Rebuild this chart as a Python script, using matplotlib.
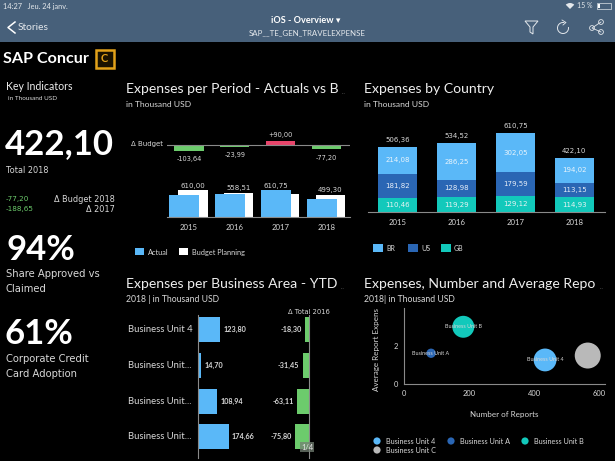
import matplotlib
matplotlib.use('Agg')
import matplotlib.pyplot as plt
from matplotlib.patches import Rectangle, Circle, Arc, Polygon, Wedge

plt.rcParams['font.family'] = ['Lato', 'DejaVu Sans']

# data
years = ['2015', '2016', '2017', '2018']
actual = [506.36, 534.52, 610.75, 422.10]
budget = [610.00, 558.51, 520.75, 499.30]
delta_budget = [-103.64, -23.99, 90.00, -77.20]
delta_labels = ['-103,64', '-23,99', '+90,00', '-77,20']
period_labels = ['610,00', '558,51', '610,75', '499,30']

country_br = [214.08, 286.25, 302.05, 194.02]
country_us = [181.82, 128.98, 179.59, 113.15]
country_gb = [110.46, 119.29, 129.12, 114.93]
country_total = [506.36, 534.52, 610.75, 422.10]

units = ['Business Unit 4', 'Business Unit...', 'Business Unit...', 'Business Unit...']
unit_values = [123.80, 14.70, 108.94, 174.66]
unit_delta = [-18.30, -31.45, -63.11, -75.80]

bubble_names = ['Business Unit 4', 'Business Unit A', 'Business Unit B', 'Business Unit C']
bubble_reports = [434, 84, 183, 565]
bubble_avg = [1.27, 1.62, 3.0, 1.5]
bubble_size = [270, 45, 250, 350]

BLUE = '#5ab8f8'
DARK = '#2a66b4'
TEAL = '#12c9bb'
GREEN = '#6ccb6c'
RED = '#e8456b'
GREY = '#b9b9b9'
LIGHT = '#d8d8d8'
HEADER = '#47607a'
ICON = '#e4e8ec'


def fmt(v):
    return f'{v:.2f}'.replace('.', ',')


def make_axes(left, top, right, bottom):
    a = fig.add_axes([left / 615, 1 - bottom / 461, (right - left) / 615, (bottom - top) / 461])
    a.set_facecolor('none')
    a.set_xticks([])
    a.set_yticks([])
    for s in a.spines.values():
        s.set_visible(False)
    return a


fig = plt.figure(figsize=(6.15, 4.61), dpi=100, facecolor='black')

# page overlay in pixels, for header and text
page = make_axes(0, 0, 615, 461)
page.set_xlim(0, 615)
page.set_ylim(461, 0)
page.add_patch(Rectangle((0, 0), 615, 42, color=HEADER, lw=0))


def txt(x, y, s, size=6, color=LIGHT, ha='left', weight='normal', **kw):
    page.text(x, y, s, fontsize=size, color=color, ha=ha, va='center', fontweight=weight, **kw)


# header
txt(3, 6, '14:27   Jeu. 24 janv.', 5.3, ICON)
page.add_patch(Wedge((570, 9), 6, 225, 315, color=ICON, lw=0))
txt(577, 6, '15 %', 5, ICON)
page.add_patch(Rectangle((597, 3), 14, 6, fill=False, ec='#dde3e8', lw=0.5))
page.add_patch(Rectangle((598, 4), 2, 4, color='white', lw=0))
page.plot([15, 8, 15], [22, 27.5, 33], color='white', lw=1.1)
txt(18, 27, 'Stories', 7.4, ICON)
txt(306, 20.5, 'iOS - Overview ▾', 6.6, 'white', ha='center', weight='bold')
txt(307, 33, 'SAP__TE_GEN_TRAVELEXPENSE', 5.7, ICON, ha='center')
page.add_patch(Polygon([[525, 21], [538, 21], [533, 27], [533, 34], [530, 32], [530, 27]],
                       fill=False, ec=ICON, lw=0.7))
page.add_patch(Arc((563, 28), 11, 11, theta1=-10, theta2=285, ec=ICON, lw=0.7))
page.plot([562, 566, 563], [20, 22.5, 25], color=ICON, lw=0.6)
page.plot([601, 592, 601], [22, 28, 32], color=ICON, lw=0.6)
for cx, cy in [(601, 22), (592, 28), (601, 32)]:
    page.add_patch(Circle((cx, cy), 2.4, fc=HEADER, ec=ICON, lw=0.6))

# logo
txt(3, 59, 'SAP Concur', 11.6, 'white', weight='bold')
page.add_patch(Rectangle((95.5, 50), 18, 18, fc='#1a1200', ec='#e3a21a', lw=1.8))
txt(104, 59, 'C', 8, '#e3a21a', ha='center', weight='bold')

# key indicators
txt(6, 87, 'Key Indicators', 7.6, '#eeeeee')
txt(8, 98, 'in Thousand USD', 4.6, LIGHT)
txt(5, 144, '422,10', 25, 'white', weight='bold')
txt(6, 170, 'Total 2018', 5.9, LIGHT, family='DejaVu Sans')
txt(6, 199, '-77,20', 5.2, GREEN, family='DejaVu Sans')
txt(6, 209, '-188,65', 5.2, GREEN, family='DejaVu Sans')
txt(115, 199, 'Δ Budget 2018', 5.9, LIGHT, ha='right', family='DejaVu Sans')
txt(115, 209, 'Δ 2017', 5.9, LIGHT, ha='right', family='DejaVu Sans')
txt(6, 250, '94%', 25, 'white', weight='bold')
txt(6, 274, 'Share Approved vs', 7.2, LIGHT, family='DejaVu Sans')
txt(6, 289, 'Claimed', 7.2, LIGHT, family='DejaVu Sans')
txt(5, 334, '61%', 25, 'white', weight='bold')
txt(6, 359, 'Corporate Credit', 7.2, LIGHT, family='DejaVu Sans')
txt(6, 374, 'Card Adoption', 7.2, LIGHT, family='DejaVu Sans')

# panel titles
txt(126, 89, 'Expenses per Period - Actuals vs B', 10.1, '#eeeeee')
txt(342, 92, '...', 4, '#777777')
txt(126, 104, 'in Thousand USD', 6.1, LIGHT)
txt(364, 89, 'Expenses by Country', 10.1, '#eeeeee')
txt(364, 104, 'in Thousand USD', 6.1, LIGHT)
txt(126, 284, 'Expenses per Business Area - YTD', 10.1, '#eeeeee')
txt(341, 287, '...', 4, '#777777')
txt(126, 299, '2018 | in Thousand USD', 6.2, LIGHT)
txt(364, 284, 'Expenses, Number and Average Repo', 10.1, '#eeeeee')
txt(600, 287, '...', 4, '#777777')
txt(364, 299, '2018| in Thousand USD', 6.2, LIGHT)

# period chart, delta row
pos = range(len(years))
ax = make_axes(167, 120, 350, 170)
ax.set_xlim(-0.48, 3.52)
ax.set_ylim(-465, 480)
ax.bar(pos, delta_budget, width=0.64, color=[RED if v > 0 else GREEN for v in delta_budget])
ax.axhline(0, color='#8a8a8a', lw=0.8)
for i, v in enumerate(delta_budget):
    off = 55 if v > 0 else -105
    ax.text(i, v + off, delta_labels[i], fontsize=4.8, color=LIGHT, ha='center',
            va='bottom' if v > 0 else 'top', family='DejaVu Sans')
txt(163, 144, 'Δ Budget', 5, LIGHT, ha='right', family='DejaVu Sans')

# period chart, actual vs budget
ax = make_axes(167, 170, 350, 217)
ax.set_xlim(-0.48, 3.52)
ax.set_ylim(0, 1075)
ax.bar([i + 0.09 for i in pos], budget, width=0.64, color='white')
ax.bar([i - 0.1 for i in pos], actual, width=0.66, color=BLUE)
ax.spines['bottom'].set_visible(True)
ax.spines['bottom'].set_color('#8a8a8a')
ax.set_xticks(list(pos), years)
ax.tick_params(axis='x', length=0, pad=5, labelsize=5.6, labelcolor=LIGHT)
for i in pos:
    ax.text(i + 0.09 if budget[i] > actual[i] else i - 0.1, max(budget[i], actual[i]) + 40,
            period_labels[i], fontsize=5, color=LIGHT, ha='center', va='bottom', family='DejaVu Sans')
page.add_patch(Rectangle((135, 248), 9, 7, color=BLUE, lw=0))
txt(148, 252.5, 'Actual', 5.3, LIGHT)
page.add_patch(Rectangle((179, 248), 9, 7, color='white', lw=0))
txt(192, 252.5, 'Budget Planning', 5.3, LIGHT)

# country stacked bars
ax = make_axes(368, 115, 605, 212.3)
ax.set_xlim(-0.5, 3.52)
ax.set_ylim(0, 750)
gb_us = [a + b for a, b in zip(country_gb, country_us)]
ax.bar(pos, country_gb, width=0.66, color=TEAL)
ax.bar(pos, country_us, width=0.66, bottom=country_gb, color=DARK)
ax.bar(pos, country_br, width=0.66, bottom=gb_us, color=BLUE)
ax.spines['bottom'].set_visible(True)
ax.spines['bottom'].set_color('#8a8a8a')
ax.set_xticks(list(pos), years)
ax.tick_params(axis='x', length=0, pad=5, labelsize=5.6, labelcolor=LIGHT)
for i in pos:
    ax.text(i, country_gb[i] / 2, fmt(country_gb[i]), fontsize=5, color='#e8f4f4', ha='center', va='center', family='DejaVu Sans')
    ax.text(i, country_gb[i] + country_us[i] / 2, fmt(country_us[i]), fontsize=5, color='#e8eef8', ha='center', va='center', family='DejaVu Sans')
    ax.text(i, gb_us[i] + country_br[i] / 2, fmt(country_br[i]), fontsize=5, color='#e8f4fc', ha='center', va='center', family='DejaVu Sans')
    ax.text(i, country_total[i] + 30, fmt(country_total[i]), fontsize=5, color=LIGHT, ha='center', va='bottom', family='DejaVu Sans')
for x, c, name in [(373, BLUE, 'BR'), (408, DARK, 'US'), (441, TEAL, 'GB')]:
    page.add_patch(Rectangle((x, 244), 10, 8, color=c, lw=0))
    txt(x + 13, 248, name, 5, LIGHT)

# business area bars
ax = make_axes(198.3, 315, 290, 458)
ax.set_xlim(0, 530)
ax.set_ylim(3.6, -0.42)
ax.barh(range(4), unit_values, height=0.7, color=BLUE)
ax.spines['left'].set_visible(True)
ax.spines['left'].set_color('#8a8a8a')
for i, v in enumerate(unit_values):
    ax.text(v + 20, i, fmt(v), fontsize=5.2, color=LIGHT, va='center', fontweight='bold')
    ax.text(-405, i, units[i], fontsize=6.8, color=LIGHT, va='center', clip_on=False)

ax = make_axes(268, 315, 308.7, 458)
ax.set_xlim(-226, 0)
ax.set_ylim(3.6, -0.42)
ax.barh(range(4), unit_delta, height=0.7, color=GREEN)
ax.spines['right'].set_visible(True)
ax.spines['right'].set_color('#8a8a8a')
for i, v in enumerate(unit_delta):
    ax.text(v - 20, i, fmt(v), fontsize=5.2, color=LIGHT, va='center', ha='right', fontweight='bold',
            clip_on=False)
txt(308.5, 311.5, 'Δ Total 2016', 4.9, LIGHT, ha='center', family='DejaVu Sans')
badge = make_axes(300, 442, 314, 452)
badge.set_facecolor((0.45, 0.5, 0.45, 0.75))
badge.text(0.5, 0.5, '1/4', fontsize=5.4, color='#e8e8e8', ha='center', va='center', transform=badge.transAxes)

# bubble chart
ax = make_axes(403.7, 308, 605, 384.3)
ax.set_xlim(0, 618)
ax.set_ylim(0, 3.98)
colors = [BLUE, DARK, TEAL, GREY]
ax.scatter(bubble_reports, bubble_avg, s=bubble_size, c=colors, linewidths=0, clip_on=False)
for i in range(3):
    ax.text(bubble_reports[i], bubble_avg[i], bubble_names[i], fontsize=3.9, color=LIGHT, ha='center', va='center')
ax.spines['left'].set_visible(True)
ax.spines['bottom'].set_visible(True)
ax.spines['left'].set_color('#8a8a8a')
ax.spines['bottom'].set_color('#8a8a8a')
ax.set_xticks([0, 200, 400, 600])
ax.set_yticks([0, 2])
ax.tick_params(length=0, labelsize=5.4, labelcolor=LIGHT, pad=4)
ax.set_xlabel('Number of Reports', fontsize=5.8, color=LIGHT, labelpad=10)
txt(376, 349.5, 'Average Report Expens', 5.8, LIGHT, ha='center', rotation=90)
for x, y, i in [(377, 441, 0), (451, 441, 1), (525, 441, 2), (377, 450, 3)]:
    page.add_patch(Circle((x, y), 3.6, color=colors[i], lw=0))
    txt(x + 9, y + 0.5, bubble_names[i], 5.2, LIGHT)

fig.savefig('out.png', dpi=100, facecolor='black')
